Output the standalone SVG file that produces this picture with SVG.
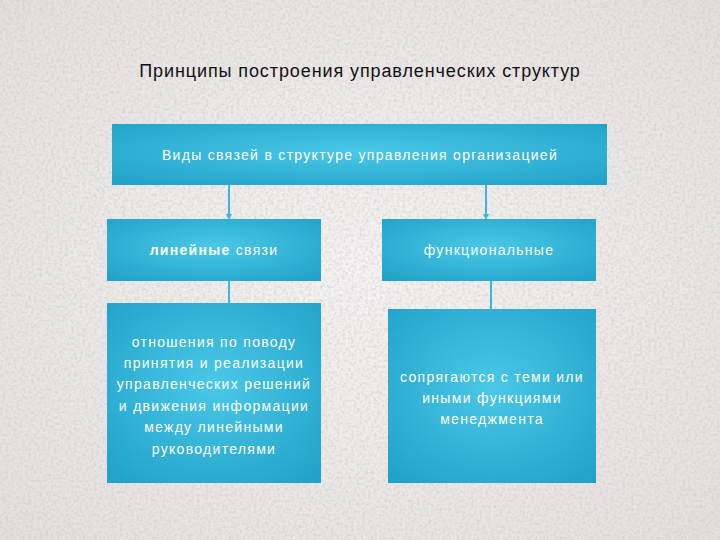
<svg xmlns="http://www.w3.org/2000/svg" width="720" height="540" viewBox="0 0 720 540">
<defs>
<radialGradient id="boxg" cx="50%" cy="45%" r="70%">
<stop offset="0" stop-color="#4ac8e8"/>
<stop offset="1" stop-color="#21a2c8"/>
</radialGradient>
<radialGradient id="bg" cx="50%" cy="50%" r="75%">
<stop offset="0" stop-color="#f6f4f4"/>
<stop offset="1" stop-color="#e4dede"/>
</radialGradient>
<filter id="tex" x="0" y="0" width="100%" height="100%">
<feTurbulence type="fractalNoise" baseFrequency="0.35" numOctaves="3" seed="4" result="n"/>
<feColorMatrix in="n" type="matrix" values="0 0 0 0 0.6  0 0 0 0 0.56  0 0 0 0 0.56  0 0 0 -1.2 0.75" result="c"/>
<feComposite in="c" in2="SourceGraphic" operator="over"/>
</filter>
<marker id="arr" markerWidth="6" markerHeight="6" refX="3" refY="3" orient="auto" markerUnits="userSpaceOnUse">
<path d="M0,0 L6,3 L0,6 z" fill="#3db8dc"/>
</marker>
</defs>
<style>
.box{fill:url(#boxg);}
.t{font-family:"Liberation Sans",Arial,sans-serif;font-size:14px;letter-spacing:1.3px;fill:#ffffff;text-anchor:middle;}
.title{font-family:"Liberation Sans",Arial,sans-serif;font-size:18px;letter-spacing:0.9px;fill:#111111;text-anchor:middle;}
.c{stroke:#3db8dc;stroke-width:2;fill:none;}
</style>
<rect width="720" height="540" fill="url(#bg)" filter="url(#tex)"/>
<text class="title" x="360" y="77">Принципы построения управленческих структур</text>
<g id="connectors">
<line class="c" x1="229" y1="185" x2="229" y2="217" marker-end="url(#arr)"/>
<line class="c" x1="486" y1="185" x2="486" y2="217" marker-end="url(#arr)"/>
<line class="c" x1="229" y1="281" x2="229" y2="303"/>
<line class="c" x1="491" y1="281" x2="491" y2="309"/>
</g>
<g id="top">
<rect class="box" x="112" y="124" width="495" height="61"/>
<text class="t" x="360" y="160">Виды связей в структуре управления организацией</text>
</g>
<g id="linear">
<rect class="box" x="107" y="219" width="214" height="62"/>
<text class="t" x="214" y="255"><tspan font-weight="bold">линейные</tspan> связи</text>
</g>
<g id="functional">
<rect class="box" x="382" y="219" width="214" height="62"/>
<text class="t" x="489" y="255">функциональные</text>
</g>
<g id="linear-desc">
<rect class="box" x="107" y="303" width="214" height="180"/>
<text class="t" x="214" y="347">отношения по поводу</text>
<text class="t" x="214" y="368">принятия и реализации</text>
<text class="t" x="214" y="389">управленческих решений</text>
<text class="t" x="214" y="411">и движения информации</text>
<text class="t" x="214" y="432">между линейными</text>
<text class="t" x="214" y="454">руководителями</text>
</g>
<g id="functional-desc">
<rect class="box" x="388" y="309" width="208" height="174"/>
<text class="t" x="492" y="382">сопрягаются с теми или</text>
<text class="t" x="492" y="403">иными функциями</text>
<text class="t" x="492" y="424">менеджмента</text>
</g>
</svg>
